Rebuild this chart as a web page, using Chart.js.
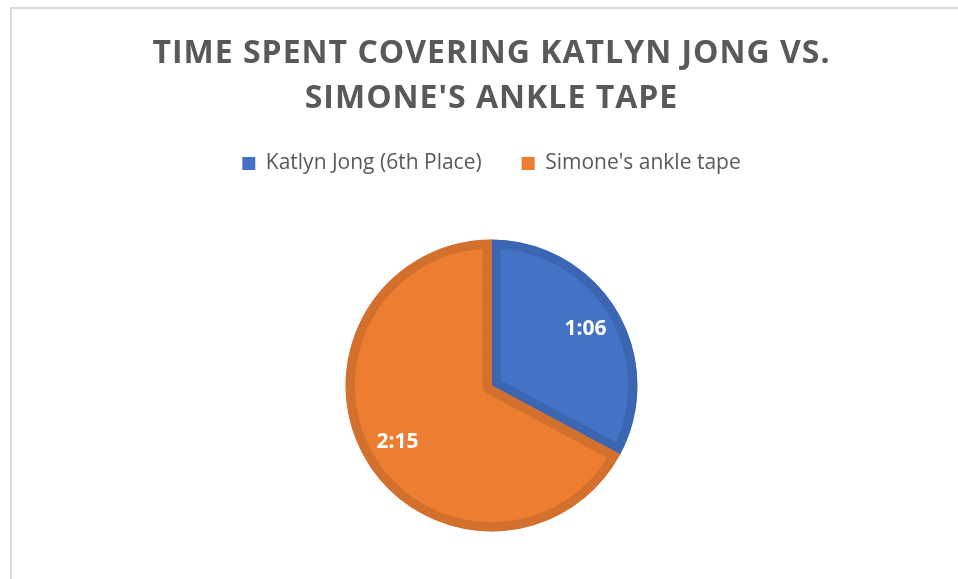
<!DOCTYPE html>
<html>
<head>
<meta charset="utf-8">
<title>Time spent covering</title>
<script src="https://cdn.jsdelivr.net/npm/chart.js@4.4.1/dist/chart.umd.min.js"></script>
<style>
  html, body { margin: 0; padding: 0; background: #fff; overflow: hidden; }
  #wrap { position: relative; width: 958px; height: 579px; }
  /* light frame around the chart, running off the right and bottom edges */
  #frame {
    position: absolute; left: 10px; top: 7px; width: 1000px; height: 700px;
    border: 2px solid #d9d9d9; box-sizing: border-box;
  }
  #chart { position: absolute; left: 0; top: 0; }
</style>
</head>
<body>
<div id="wrap">
  <div id="frame"></div>
  <canvas id="chart" width="958" height="579"></canvas>
</div>
<script>
// data
const titleLines = ['TIME SPENT COVERING KATLYN JONG VS.', "SIMONE'S ANKLE TAPE"];
const categories = ['Katlyn Jong (6th Place)', "Simone's ankle tape"];
const seconds = [66, 135]; // 1:06 and 2:15
const fills = ['#4472c4', '#ed7d31'];
const edges = ['#3d66b2', '#d4702d'];

// seconds -> m:ss
function toMinSec(s) {
  const m = Math.floor(s / 60);
  return m + ':' + String(s % 60).padStart(2, '0');
}

// white value labels inside each slice
const sliceLabels = {
  id: 'sliceLabels',
  afterDatasetsDraw(chart) {
    const { ctx } = chart;
    const meta = chart.getDatasetMeta(0);
    ctx.save();
    ctx.font = 'bold 21px "Open Sans"';
    ctx.fillStyle = '#ffffff';
    ctx.textAlign = 'center';
    ctx.textBaseline = 'middle';
    meta.data.forEach((arc, i) => {
      const p = arc.getProps(['x', 'y', 'startAngle', 'endAngle', 'outerRadius'], true);
      const mid = (p.startAngle + p.endAngle) / 2;
      const r = p.outerRadius * 0.75;
      ctx.fillText(toMinSec(seconds[i]), p.x + Math.cos(mid) * r, p.y + Math.sin(mid) * r);
    });
    ctx.restore();
  }
};

// spaced-out title letters
const titleSpacing = {
  id: 'titleSpacing',
  afterLayout(chart) {
    const t = chart.titleBlock;
    if (!t || t._spaced) return;
    const draw = t.draw.bind(t);
    t.draw = function () {
      chart.ctx.save();
      chart.ctx.letterSpacing = '1px';
      draw();
      chart.ctx.restore();
    };
    t._spaced = true;
  }
};

const ctx = document.getElementById('chart').getContext('2d');
new Chart(ctx, {
  type: 'pie',
  data: {
    labels: categories,
    datasets: [{
      data: seconds,
      backgroundColor: fills,
      borderColor: edges,
      borderWidth: 9,
      borderAlign: 'inner',
      hoverOffset: 0,
      radius: 146
    }]
  },
  options: {
    responsive: false,
    animation: false,
    events: [],
    layout: { padding: { top: 0, left: 25, right: 0, bottom: 0 } },
    plugins: {
      title: {
        display: true,
        text: titleLines,
        color: '#595959',
        font: { family: '"Open Sans"', size: 32, weight: 'bold', lineHeight: 1.406 },
        padding: { top: 31, bottom: -8 }
      },
      // empty spacer between the legend and the pie
      subtitle: {
        display: true,
        text: ' ',
        weight: 500,
        font: { size: 1, lineHeight: 1 },
        padding: { top: 0, bottom: 7 }
      },
      legend: {
        display: true,
        labels: {
          color: '#595959',
          font: { family: '"Open Sans"', size: 21 },
          boxWidth: 13,
          boxHeight: 13,
          padding: 40,
          generateLabels(chart) {
            return Chart.overrides.pie.plugins.legend.labels.generateLabels(chart)
              .map(l => ({ ...l, lineWidth: 0 }));
          }
        }
      },
      tooltip: { enabled: false }
    }
  },
  plugins: [sliceLabels, titleSpacing]
});
</script>
</body>
</html>
